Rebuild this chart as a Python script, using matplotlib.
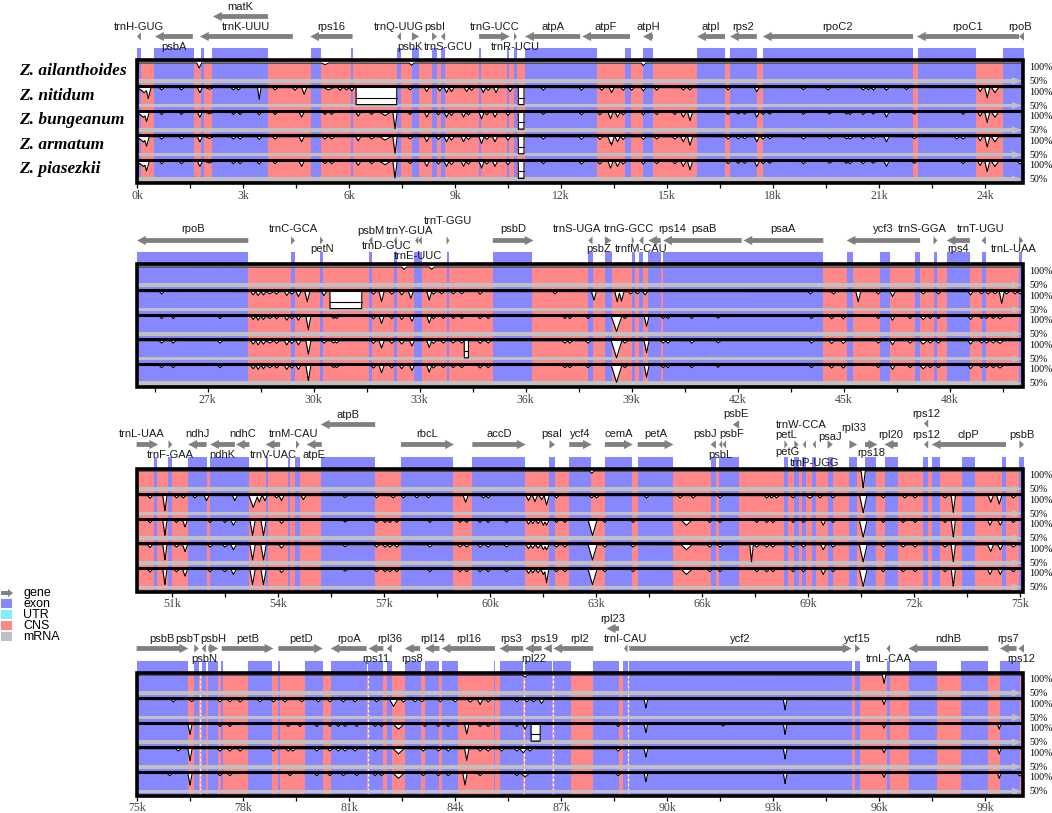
import numpy as np
import matplotlib
matplotlib.use("Agg")
import matplotlib.pyplot as plt
from matplotlib.patches import Rectangle, Polygon

W, H = 1052, 813
EXON = "#8787FF"
CNS = "#FF8787"
UTR = "#80F0F8"
GREY = "#C0C0C0"
ARROW = "#808080"

species = ["Z. ailanthoides", "Z. nitidum", "Z. bungeanum", "Z. armatum", "Z. piasezkii"]
panel_start = [0, 25, 50, 75]
panel_len = 25.1

# genes: name, start kb, end kb, strand, arrow row offset (px), label offset (px), label shift (kb)
genes1 = [
    ("trnH-GUG", 0.0, 0.11, -1, 0, -10, 0), ("psbA", 0.51, 1.58, -1, 0, 10, 0),
    ("trnK-UUU", 1.78, 4.41, -1, 0, -10, 0), ("matK", 2.15, 3.71, -1, -20, -29, 0),
    ("rps16", 4.9, 6.1, -1, 0, -10, 0), ("trnQ-UUG", 7.36, 7.47, -1, 0, -10, 0),
    ("psbK", 7.78, 7.98, 1, 0, 10, -0.15), ("psbI", 8.35, 8.49, 1, 0, -10, 0),
    ("trnS-GCU", 8.6, 8.72, -1, 0, 10, 0.15), ("trnG-UCC", 9.68, 10.55, 1, 0, -10, 0),
    ("trnR-UCU", 10.67, 10.75, 1, 0, 10, 0), ("atpA", 10.98, 12.54, -1, 0, -10, 0),
    ("atpF", 12.6, 13.95, -1, 0, -10, 0), ("atpH", 14.32, 14.6, -1, 0, -10, 0),
    ("atpI", 15.85, 16.64, -1, 0, -10, 0), ("rps2", 16.78, 17.54, -1, 0, -10, 0),
    ("rpoC2", 17.71, 21.96, -1, 0, -10, 0), ("rpoC1", 22.07, 24.96, -1, 0, -10, 0),
    ("rpoB", 24.96, 25.1, -1, 0, -10, -0.05),
]
exons1 = [(0.0, 0.12), (0.49, 1.6), (1.81, 1.9), (2.12, 3.71), (4.92, 5.2), (6.06, 6.12),
          (7.36, 7.48), (7.78, 7.98), (8.35, 8.49), (8.6, 8.72), (9.68, 9.73), (10.47, 10.53),
          (10.67, 10.75), (10.98, 13.02), (13.81, 13.98), (14.32, 14.6), (15.85, 16.64),
          (16.78, 17.54), (17.71, 21.96), (22.1, 23.74), (24.5, 25.1)]

genes2 = [
    ("rpoB", 25.0, 28.15, -1, 0, -11, 0), ("trnC-GCA", 29.36, 29.47, 1, 0, -11, 0),
    ("petN", 30.18, 30.27, 1, 0, 9, 0), ("psbM", 31.56, 31.66, -1, 0, -9, 0),
    ("trnD-GUC", 32.27, 32.35, -1, 0, 6, -0.25), ("trnY-GUA", 32.87, 32.96, -1, 0, -9, -0.2),
    ("trnE-UUC", 32.96, 33.06, -1, 0, 16, -0.05), ("trnT-GGU", 33.76, 33.84, 1, 0, -19, 0),
    ("psbD", 35.07, 36.22, 1, 0, -11, 0), ("trnS-UGA", 37.77, 37.89, -1, 0, -11, -0.37),
    ("psbZ", 38.24, 38.43, 1, 0, 9, -0.28), ("trnG-GCC", 39.0, 39.07, 1, 0, -11, -0.11),
    ("trnfM-CAU", 39.21, 39.33, -1, 0, 9, 0), ("rps14", 39.47, 39.82, -1, 0, -11, 0.5),
    ("psaB", 39.89, 42.11, -1, 0, -11, 0.05), ("psaA", 42.16, 44.42, -1, 0, -11, 0),
    ("ycf3", 45.08, 47.16, -1, 0, -11, 0), ("trnS-GGA", 47.54, 47.65, 1, 0, -11, -0.37),
    ("rps4", 47.91, 48.57, -1, 0, 9, 0), ("trnT-UGU", 48.9, 49.02, -1, 0, -11, -0.1),
    ("trnL-UAA", 49.96, 50.08, 1, 0, 9, -0.2),
]
exons2 = [(24.97, 28.15), (29.36, 29.47), (30.18, 30.27), (31.56, 31.66), (32.26, 32.35),
          (32.84, 33.06), (33.76, 33.84), (35.07, 36.18), (37.77, 37.89), (38.24, 38.43),
          (39.01, 39.08), (39.21, 39.33), (39.47, 39.82), (39.89, 44.42), (45.1, 45.27),
          (46.03, 46.31), (47.01, 47.16), (47.54, 47.65), (47.93, 48.57), (48.9, 49.02),
          (49.96, 50.03)]

genes3 = [
    ("trnL-UAA", 49.99, 50.6, 1, 0, -11, -0.15), ("trnF-GAA", 50.89, 51.0, 1, 0, 10, 0),
    ("ndhJ", 51.45, 51.97, -1, 0, -11, 0), ("ndhK", 52.07, 52.77, -1, 0, 10, 0),
    ("ndhC", 52.8, 53.18, -1, 0, -11, 0), ("trnV-UAC", 53.64, 54.05, -1, 0, 10, 0),
    ("trnM-CAU", 54.5, 54.6, 1, 0, -11, -0.12), ("atpE", 54.8, 55.23, -1, 0, 10, 0),
    ("atpB", 55.2, 56.74, -1, -20, -30, 0), ("rbcL", 57.47, 58.97, 1, 0, -11, 0),
    ("accD", 59.49, 61.0, 1, 0, -11, 0), ("psaI", 61.67, 61.83, 1, 0, -11, 0),
    ("ycf4", 62.23, 62.87, 1, 0, -11, 0), ("cemA", 63.24, 64.03, 1, 0, -11, 0),
    ("petA", 64.17, 65.18, 1, 0, -11, 0), ("psbJ", 66.23, 66.38, -1, 0, -11, -0.24),
    ("psbL", 66.47, 66.56, -1, 0, 10, 0), ("psbF", 66.57, 66.67, -1, 0, -11, 0.22),
    ("psbE", 66.86, 67.04, -1, -20, -31, 0), ("petL", 68.32, 68.41, 1, 0, -10, 0),
    ("petG", 68.6, 68.72, 1, 0, 7, -0.25), ("trnW-CCA", 68.84, 68.93, -1, 0, -20, -0.1),
    ("trnP-UGG", 69.12, 69.21, -1, 0, 18, 0), ("psaJ", 69.54, 69.69, 1, 0, -8, 0),
    ("rpl33", 70.16, 70.38, 1, 0, -17, 0), ("rps18", 70.6, 70.95, 1, 0, 8, 0),
    ("rpl20", 71.15, 71.53, -1, 0, -10, 0), ("rps12", 72.27, 72.39, -1, -21, -31, 0),
    ("rps12", 72.27, 72.39, -1, 0, -10, 0), ("clpP", 72.49, 74.59, -1, 0, -10, 0),
    ("psbB", 74.97, 75.1, 1, 0, -10, 0),
]
exons3 = [(50.48, 50.58), (50.89, 51.0), (51.45, 51.97), (52.07, 53.18), (53.64, 53.72),
          (54.28, 54.33), (54.47, 54.6), (55.2, 56.74), (57.47, 58.95), (59.49, 60.98),
          (61.67, 61.83), (62.23, 62.84), (63.24, 64.02), (64.17, 65.18), (66.23, 66.38),
          (66.47, 67.04), (68.3, 68.41), (68.58, 68.73), (68.81, 68.92), (69.09, 69.21),
          (69.54, 69.69), (70.16, 70.37), (70.6, 70.91), (71.17, 71.53), (72.25, 72.39),
          (72.49, 72.72), (73.34, 73.71), (74.47, 74.59), (74.96, 75.1)]

genes4 = [
    ("psbB", 74.99, 76.45, 1, 0, -10, 0), ("psbT", 76.62, 76.75, 1, 0, -10, -0.24),
    ("psbN", 76.83, 76.95, -1, 0, 10, 0), ("psbH", 77.02, 77.3, 1, 0, -10, 0),
    ("petB", 77.4, 78.86, 1, 0, -10, 0), ("petD", 79.0, 80.26, 1, 0, -10, 0),
    ("rpoA", 80.48, 81.5, -1, 0, -10, 0), ("rps11", 81.55, 81.97, -1, 0, 10, 0),
    ("rpl36", 82.07, 82.21, -1, 0, -10, 0), ("rps8", 82.58, 83.01, -1, 0, 10, 0),
    ("rpl14", 83.15, 83.56, -1, 0, -10, 0), ("rpl16", 83.62, 85.13, -1, 0, -10, 0),
    ("rps3", 85.26, 85.93, -1, 0, -10, 0), ("rpl22", 85.98, 86.45, -1, 0, 10, 0),
    ("rps19", 86.5, 86.74, -1, 0, -10, -0.1), ("rpl2", 86.78, 87.91, -1, 0, -10, 0.17),
    ("rpl23", 88.29, 88.64, -1, -20, -30, 0), ("trnI-CAU", 88.78, 88.88, -1, 0, -10, 0),
    ("ycf2", 88.93, 95.22, 1, 0, -10, 0), ("ycf15", 95.32, 95.46, 1, 0, -10, 0),
    ("trnL-CAA", 96.21, 96.31, -1, 0, 10, 0), ("ndhB", 96.83, 99.09, -1, 0, -10, 0),
    ("rps7", 99.42, 99.89, -1, 0, -10, 0), ("rps12", 99.94, 100.1, -1, 0, 10, 0),
]
exons4 = [(74.99, 76.43), (76.62, 76.75), (76.83, 76.95), (77.02, 77.3), (77.37, 77.42),
          (78.13, 78.83), (79.0, 79.05), (79.76, 80.25), (80.48, 81.5), (81.55, 81.97),
          (82.07, 82.21), (82.58, 83.03), (83.15, 83.56), (83.64, 84.08), (85.09, 85.13),
          (85.26, 85.93), (85.98, 86.74), (86.78, 87.27), (87.91, 88.64), (88.76, 88.88),
          (88.93, 95.22), (95.32, 95.46), (96.21, 96.31), (96.85, 97.65), (98.31, 99.09),
          (99.42, 99.99)]
gap_lines4 = [76.78, 81.53, 85.96, 86.77, 88.9]

# identity dips: (position kb, lowest identity %, [width kb])
d1_ail = [(0.02, 55, 0.06), (1.76, 85), (5.32, 95, 0.2), (7.77, 93), (14.33, 92)]
d1_nit = [(0.02, 55, 0.06), (0.2, 85, 0.35), (0.32, 68, 0.15), (0.70, 93), (1.26, 93), (1.78, 85),
          (2.05, 95, 0.22), (2.73, 93), (2.87, 93), (3.46, 65, 0.1), (3.91, 93), (4.47, 92, 0.15),
          (4.73, 80), (5.42, 93, 0.28), (5.75, 92), (5.93, 93), (6.08, 90), (7.73, 93), (8.2, 88),
          (8.57, 90), (8.76, 85), (8.9, 88), (9.33, 88), (9.47, 92), (9.8, 85), (9.94, 92),
          (10.16, 85), (10.56, 88), (11.5, 92), (12.58, 92), (13.15, 92), (13.43, 85), (13.76, 92),
          (14.0, 92), (14.33, 90), (14.71, 92), (15.46, 93), (15.65, 93), (16.73, 93), (17.54, 88),
          (18.86, 94), (19.56, 93, 0.15), (20.55, 93), (20.7, 94), (20.84, 93), (21.21, 92),
          (21.78, 94), (23.86, 88), (24.06, 70), (24.28, 85, 0.2)]
d1_bun = [(0.02, 55, 0.06), (0.18, 85, 0.35), (0.27, 72, 0.15), (0.70, 93), (1.26, 93), (1.78, 85),
          (2.05, 95, 0.22), (2.73, 93), (2.92, 93), (3.46, 92), (3.91, 93), (4.66, 85), (5.32, 93),
          (5.51, 93), (6.26, 88), (6.64, 93), (7.02, 90, 0.3), (7.3, 50, 0.12), (7.73, 93),
          (8.2, 85), (8.53, 92), (8.76, 85), (8.9, 90), (9.24, 85), (9.38, 92), (9.75, 80),
          (9.9, 92), (10.13, 85), (10.5, 90), (11.5, 93), (12.58, 92), (13.1, 92), (13.4, 80),
          (13.6, 85), (13.76, 92), (14.33, 92), (14.71, 93), (15.22, 93), (15.46, 85), (15.65, 75),
          (16.73, 93), (17.02, 94), (17.2, 94), (17.54, 85), (17.72, 93), (17.91, 94), (18.86, 93),
          (19.6, 94), (20.08, 94), (20.18, 93), (20.55, 93), (20.84, 94), (21.21, 85), (22.0, 94),
          (23.38, 93), (23.86, 88), (24.06, 70), (24.28, 85, 0.2)]
d1_arm = d1_bun + [(23.2, 93), (13.43, 75)]
d1_pia = d1_bun + [(24.99, 92)]
g1 = [[], [(6.2, 7.35), (10.79, 10.95)], [(10.79, 10.95)], [(10.79, 10.95)], [(10.79, 10.95)]]

d2_ail = [(32.56, 93), (33.34, 93)]
d2_nit = [(25.7, 93), (28.29, 90), (28.43, 88), (28.58, 90), (28.76, 93, 0.2), (28.95, 92),
          (29.24, 88), (29.38, 92), (29.57, 85), (29.82, 70), (30.29, 88), (31.69, 92), (31.92, 70),
          (32.21, 92), (32.49, 90), (32.75, 80), (33.27, 75), (33.39, 92), (33.62, 93), (33.95, 93),
          (34.19, 93), (34.71, 92), (36.83, 93), (37.93, 75), (38.59, 70), (38.71, 72), (38.97, 93),
          (39.16, 93), (39.38, 90), (44.06, 93), (44.71, 93), (45.41, 70), (45.98, 93), (46.38, 85),
          (47.25, 93), (47.68, 93), (48.59, 90), (48.9, 93), (49.09, 93), (49.28, 93, 0.15),
          (49.47, 65), (49.61, 93), (49.85, 93), (49.99, 93)]
d2_bun = [(25.7, 93), (26.03, 93), (27.35, 93), (28.29, 90), (28.43, 88), (28.58, 90),
          (28.76, 93, 0.2), (28.95, 92), (29.24, 88), (29.38, 92), (29.57, 88), (29.85, 60),
          (30.56, 93), (30.65, 93), (31.69, 92), (31.92, 78), (32.21, 92), (32.49, 90), (32.78, 85),
          (33.27, 80), (33.39, 92), (33.67, 93), (33.95, 93), (34.19, 93), (34.71, 92), (34.94, 93),
          (37.11, 93), (37.25, 93), (37.77, 93), (38.57, 55, 0.3), (38.81, 93), (39.42, 70),
          (39.89, 93), (40.03, 93), (40.7, 93), (41.45, 94), (44.09, 93), (44.66, 92, 0.15),
          (44.99, 92, 0.15), (45.98, 93), (46.38, 88), (46.88, 93), (47.25, 90, 0.2), (47.45, 93),
          (47.68, 93), (48.59, 90), (48.9, 93), (49.04, 93), (49.23, 93), (49.42, 92, 0.2)]
d2_arm = d2_bun + [(30.3, 93), (38.57, 50, 0.3), (39.42, 65)]
d2_pia = d2_bun + [(29.85, 55), (38.57, 50, 0.3), (39.42, 65)]
g2 = [[], [(30.46, 31.36)], [], [(34.26, 34.38)], []]

d3_ail = [(62.87, 93), (70.55, 50, 0.12)]
d3_nit = [(50.37, 92), (50.79, 55, 0.12), (51.12, 93), (51.31, 93), (51.64, 93), (51.97, 85),
          (52.77, 85), (53.29, 65, 0.25), (53.46, 80), (53.62, 85), (53.95, 93), (54.09, 85),
          (54.71, 88), (55.89, 94), (56.78, 93), (57.25, 93), (57.54, 93), (57.92, 93), (58.25, 93),
          (59.3, 80), (59.8, 93), (59.94, 93), (61.08, 85), (61.26, 82), (61.45, 88), (61.59, 72),
          (61.87, 93), (62.87, 93), (63.01, 93), (64.42, 93), (65.37, 93), (65.74, 93), (66.5, 93),
          (67.82, 93), (67.96, 93), (68.1, 93), (68.57, 93), (69.04, 92, 0.2), (69.33, 93),
          (69.7, 93), (70.55, 50, 0.2), (71.12, 93), (71.73, 93), (72.02, 93), (72.87, 93),
          (73.1, 50, 0.12), (74.16, 80), (74.4, 75), (74.8, 93)]
d3_bun = [(50.37, 92), (50.79, 55, 0.12), (51.12, 93), (51.36, 80), (52.07, 93), (52.49, 93),
          (52.73, 85, 0.15), (53.27, 55, 0.15), (53.58, 55, 0.15), (54.09, 90), (55.89, 94),
          (56.78, 93), (57.02, 93), (57.16, 93), (57.35, 93), (58.29, 93), (59.14, 93), (59.33, 93),
          (59.71, 93), (59.94, 93), (60.46, 93), (61.08, 88), (61.2, 90), (61.35, 90), (61.5, 85),
          (61.59, 85), (61.87, 93), (62.11, 93), (62.89, 55, 0.25), (63.24, 93), (64.04, 93),
          (65.55, 85, 0.3), (66.21, 93), (66.5, 93), (67.54, 93), (67.82, 93), (68.0, 93),
          (68.57, 93), (68.86, 93), (69.42, 85), (69.7, 93), (70.55, 50, 0.22), (71.12, 93),
          (71.68, 93), (72.02, 93), (72.87, 93), (73.1, 50, 0.12), (74.14, 85), (74.43, 85),
          (74.8, 93)]
d3_arm = d3_bun + [(67.39, 50, 0.1), (74.16, 80)]
d3_pia = d3_bun + [(61.59, 60, 0.12)]
g3 = [[], [], [], [], []]

d4_ail = [(85.98, 93), (96.14, 75, 0.1)]
d4_nit = [(76.03, 93), (76.55, 94, 0.15), (77.35, 93), (77.63, 93), (77.92, 93), (78.48, 93),
          (78.86, 93), (79.19, 93), (79.66, 93), (80.13, 93), (80.46, 93), (80.84, 93), (81.17, 93),
          (81.78, 93), (82.26, 80, 0.22), (82.54, 92), (82.87, 93), (83.06, 93), (83.58, 93),
          (84.0, 93), (84.43, 92, 0.15), (84.71, 85), (84.94, 93), (85.75, 93), (86.03, 93),
          (86.22, 93), (86.45, 88), (89.4, 75, 0.1), (93.34, 70, 0.1), (96.14, 85, 0.1)]
d4_bun = [(76.5, 70, 0.12), (77.35, 93), (77.63, 93), (79.28, 93), (79.61, 93), (80.09, 93),
          (80.46, 93), (80.7, 93), (80.89, 93), (81.22, 93), (81.74, 93), (81.92, 93), (82.4, 85, 0.3),
          (83.15, 93), (83.53, 93), (83.81, 93), (84.33, 70, 0.12), (84.71, 93), (84.94, 93),
          (85.75, 93), (85.98, 85), (88.62, 93), (89.4, 75, 0.1), (91.59, 94), (93.34, 70, 0.1),
          (96.14, 88, 0.1), (99.4, 85, 0.1)]
d4_arm = [(76.17, 93), (76.5, 65, 0.12), (77.35, 93), (77.63, 93), (77.92, 93), (78.86, 93),
          (79.28, 93), (79.41, 93), (80.09, 93), (80.46, 93), (80.7, 93), (80.89, 93), (81.17, 93),
          (81.74, 93), (82.4, 85, 0.3), (83.1, 93), (83.53, 93), (83.81, 93), (84.33, 65, 0.12),
          (84.71, 93), (84.94, 93), (85.32, 93), (85.75, 93), (85.93, 88, 0.2), (86.12, 93),
          (88.62, 93), (89.4, 75, 0.1), (93.34, 70, 0.1), (96.14, 88, 0.1), (99.4, 85, 0.1)]
d4_pia = [(75.93, 93, 0.15), (76.5, 65, 0.12), (77.35, 93), (77.63, 93), (79.33, 93), (80.09, 93),
          (80.46, 93), (80.84, 93), (81.22, 93), (81.74, 93), (81.92, 93), (82.4, 85, 0.3),
          (83.1, 93), (83.53, 93), (83.81, 93), (84.28, 65, 0.12), (84.71, 93), (85.75, 93),
          (85.98, 90, 0.25), (88.62, 93), (89.4, 75, 0.1), (93.34, 70, 0.1), (96.14, 88, 0.1),
          (99.4, 85, 0.1), (99.99, 92)]
g4 = [[], [], [(86.15, 86.41)], [], []]

panels = [
    (genes1, exons1, [d1_ail, d1_nit, d1_bun, d1_arm, d1_pia], g1, []),
    (genes2, exons2, [d2_ail, d2_nit, d2_bun, d2_arm, d2_pia], g2, []),
    (genes3, exons3, [d3_ail, d3_nit, d3_bun, d3_arm, d3_pia], g3, []),
    (genes4, exons4, [d4_ail, d4_nit, d4_bun, d4_arm, d4_pia], g4, gap_lines4),
]

TH = 24.6   # track height, px
BASE = 2.5  # 100% line below track top, px
SPAN = 17.0  # px from 100% to 50%


def identity(xs, dips, gaps):
    v = np.full_like(xs, 100.0)
    for d in dips:
        c, low = d[0], d[1]
        w = d[2] if len(d) > 2 else 0.14
        v = np.minimum(v, low + (100 - low) * np.abs(xs - c) / (w / 2))
    for l, r in gaps:
        v[(xs >= l) & (xs <= r)] = 50
    return np.minimum(v, 100)


def arrow_pts(s, e, strand, y):
    L = e - s
    hl = min(0.25, L)
    if L <= 0.25:
        if strand > 0:
            return [(s, y - 4.2), (e, y), (s, y + 4.2)]
        return [(e, y - 4.2), (s, y), (e, y + 4.2)]
    if strand > 0:
        return [(s, y - 2.4), (e - hl, y - 2.4), (e - hl, y - 4.6), (e, y),
                (e - hl, y + 4.6), (e - hl, y + 2.4), (s, y + 2.4)]
    return [(e, y - 2.4), (s + hl, y - 2.4), (s + hl, y - 4.6), (s, y),
            (s + hl, y + 4.6), (s + hl, y + 2.4), (e, y + 2.4)]


fig = plt.figure(figsize=(W / 100, H / 100), dpi=100)
ov = fig.add_axes([0, 0, 1, 1])
ov.set_xlim(0, W)
ov.set_ylim(H, 0)
ov.axis("off")

for p, (genes, exons, dips, gaps, vlines) in enumerate(panels):
    x0 = panel_start[p]
    x1 = x0 + panel_len
    ya = 36.5 + 204 * p
    top, bot = ya - 42, ya + 147
    box_top = ya + 24
    ax = fig.add_axes([137 / W, 1 - bot / H, 887 / W, (bot - top) / H])
    ax.patch.set_visible(False)
    ax.set_xlim(x0, x1)
    ax.set_ylim(bot, top)
    for s in ax.spines.values():
        s.set_visible(False)
    ax.set_yticks([])

    # annotation band and track backgrounds
    ax.add_patch(Rectangle((x0, box_top), x1 - x0, bot - box_top, color=CNS, lw=0, zorder=1))
    for s, e in exons:
        ax.add_patch(Rectangle((s, ya + 12), e - s, 12, color=EXON, lw=0, zorder=1))
        ax.add_patch(Rectangle((s, box_top), e - s, bot - box_top, color=EXON, lw=0, zorder=1))

    xs = np.linspace(x0, x1, 7000)
    for k in range(5):
        yt = box_top + k * TH
        v = identity(xs, dips[k], gaps[k])
        yc = yt + BASE + (100 - v) / 50 * SPAN
        ax.fill_between(xs, yt + 1, yc, color="white", lw=0, zorder=2)
        for xv in vlines:
            ax.plot([xv, xv], [yt + 2, yt + TH], color="white", lw=0.9, ls=(0, (2.5, 1.5)), zorder=2)
        ax.add_patch(Rectangle((x0 + 0.02, yt + 18.6), x1 - x0 - 0.35, 3.6, color=GREY, lw=0, zorder=3))
        ax.add_patch(Polygon([(x1 - 0.34, yt + 16.8), (x1 - 0.04, yt + 20.4), (x1 - 0.34, yt + 24.0)],
                             closed=True, color=GREY, lw=0, zorder=3))
        ax.plot(xs, yc, color="black", lw=0.8, zorder=4)
        for l, r in gaps[k]:
            ax.plot([l, r], [yt + 12.5] * 2, color="black", lw=0.8, zorder=4)
        if k > 0:
            ax.plot([x0, x1], [yt + 1, yt + 1], color="black", lw=2.2, zorder=5)
        ov.text(1029, yt + 7, "100%", fontsize=7.2, family="Liberation Serif", va="center")
        ov.text(1029, yt + 21, "50%", fontsize=7.2, family="Liberation Serif", va="center")
        if p == 0:
            ov.text(19, yt + 10.5, species[k], fontsize=12.5, family="Liberation Serif",
                    weight="bold", style="italic", va="center")

    ax.add_patch(Rectangle((x0, box_top), x1 - x0 - 0.02, bot - box_top, fill=False,
                           edgecolor="black", lw=2.6, zorder=6, clip_on=False))

    # gene arrows and names
    for name, s, e, strand, ady, ldy, ldx in genes:
        ax.add_patch(Polygon(arrow_pts(s, e, strand, ya + ady), closed=True, color=ARROW,
                             lw=0, zorder=3, clip_on=False))
        ax.text((s + e) / 2 + ldx, ya + ldy, name, fontsize=8, family="Liberation Sans",
                color="#1a1a1a", ha="center", va="center", clip_on=False)

    majors = np.arange(x0 + (-x0) % 3, x1, 3)
    minors = np.arange(x0 + (1.5 - x0) % 3, x1, 3)
    ax.set_xticks(majors)
    ax.set_xticklabels([f"{int(m)}k" for m in majors], fontsize=8.5,
                       family="Liberation Serif", color="#444444")
    ax.set_xticks(minors, minor=True)
    ax.tick_params(axis="x", which="both", direction="out", length=3.5, width=0.9, pad=1)

# legend
ov.add_patch(Polygon([(1, 591), (8, 591), (8, 589), (13, 593), (8, 597), (8, 595), (1, 595)],
                     closed=True, color=ARROW, lw=0))
for i, (c, lab) in enumerate([(EXON, "exon"), (UTR, "UTR"), (CNS, "CNS"), (GREY, "mRNA")]):
    ov.add_patch(Rectangle((1, 599 + 11 * i), 11, 9, color=c, lw=0))
    ov.text(23, 604 + 11 * i, lab, fontsize=9, family="Liberation Sans", va="center")
ov.text(23, 593, "gene", fontsize=9, family="Liberation Sans", va="center")

fig.savefig("out.png", dpi=100)
